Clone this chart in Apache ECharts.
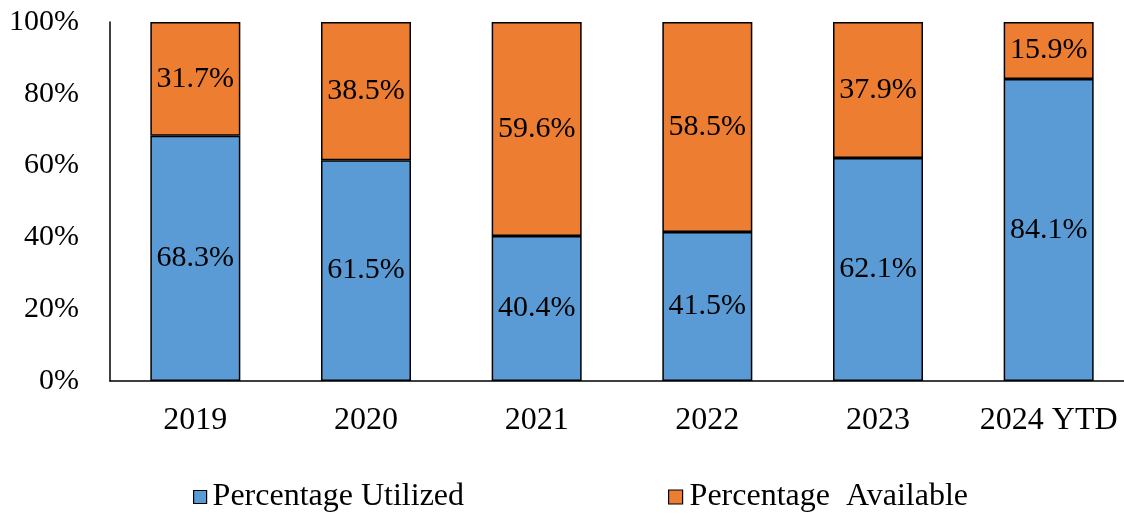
<!DOCTYPE html>
<html>
<head>
<meta charset="utf-8">
<script src="https://cdn.jsdelivr.net/npm/echarts@6/dist/echarts.min.js"></script>
<style>
  html, body { margin: 0; padding: 0; background: #fff; }
  #chart { width: 1124px; height: 514px; }
</style>
</head>
<body>
<div id="chart"></div>
<script>
  var years = ['2019', '2020', '2021', '2022', '2023', '2024 YTD'];
  var utilized = [68.3, 61.5, 40.4, 41.5, 62.1, 84.1];
  var available = [31.7, 38.5, 59.6, 58.5, 37.9, 15.9];
  var yTicks = [0, 20, 40, 60, 80, 100];

  var font = 'Liberation Serif, Times New Roman, serif';
  var myChart = echarts.init(document.getElementById('chart'));

  var barLabel = {
    show: true,
    position: 'inside',
    color: '#000',
    fontFamily: font,
    fontSize: 30,
    formatter: function (p) { return p.value.toFixed(1) + '%'; }
  };

  myChart.setOption({
    animation: false,
    grid: { left: 110, width: 1024, top: 22, height: 359, outerBoundsMode: 'none', containLabel: false },
    legend: [{
      data: ['Percentage Utilized'],
      left: 188, top: 476,
      itemWidth: 13, itemHeight: 13,
      icon: 'rect',
      itemStyle: { borderColor: '#000', borderWidth: 1.2 },
      textStyle: { fontFamily: font, fontSize: 32, color: '#000', padding: [0, 0, 0, 1] }
    }, {
      data: ['Percentage  Available'],
      left: 663, top: 476,
      itemWidth: 14, itemHeight: 14,
      icon: 'rect',
      itemStyle: { borderColor: '#000', borderWidth: 1.2 },
      textStyle: { fontFamily: font, fontSize: 32, color: '#000', padding: [0, 0, 0, 2] }
    }],
    xAxis: {
      type: 'category',
      data: years,
      axisLine: { lineStyle: { color: '#000', width: 1.5 } },
      axisTick: { show: false },
      axisLabel: { color: '#000', fontFamily: font, fontSize: 32, margin: 24, interval: 0 }
    },
    yAxis: {
      type: 'value',
      min: 0, max: 100, interval: 20,
      axisLine: { show: true, lineStyle: { color: '#000', width: 1.5 } },
      axisTick: { show: false },
      splitLine: { show: false },
      axisLabel: {
        color: '#000', fontFamily: font, fontSize: 30, margin: 31,
        formatter: function (v) { return yTicks.indexOf(v) >= 0 ? v + '%' : ''; }
      }
    },
    series: [{
      name: 'Percentage Utilized',
      type: 'bar',
      stack: 'total',
      barWidth: 90,
      data: utilized,
      itemStyle: { color: '#5B9BD5', borderColor: '#000', borderWidth: 1.5 },
      label: barLabel
    }, {
      name: 'Percentage  Available',
      type: 'bar',
      stack: 'total',
      barWidth: 90,
      data: available,
      itemStyle: { color: '#ED7D31', borderColor: '#000', borderWidth: 1.5 },
      label: barLabel
    }]
  });
</script>
</body>
</html>
